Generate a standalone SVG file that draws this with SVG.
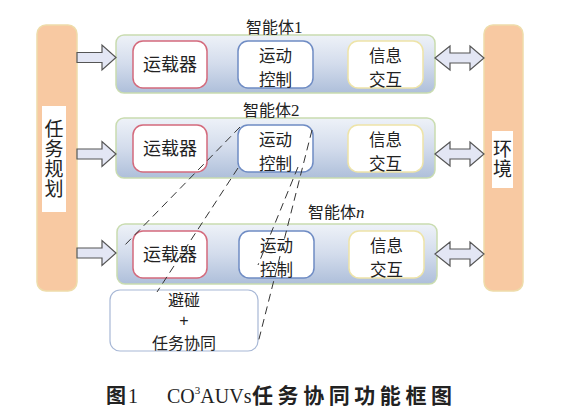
<svg xmlns="http://www.w3.org/2000/svg" xmlns:xlink="http://www.w3.org/1999/xlink" width="568" height="413" viewBox="0 0 568 413">
<defs>
<linearGradient id="cg" x1="0" y1="0" x2="0" y2="1">
<stop offset="0" stop-color="#eef2f8"/>
<stop offset="0.5" stop-color="#d3dcec"/>
<stop offset="1" stop-color="#aebfda"/>
</linearGradient>
<path id="ra" d="M77,-5 H102 V-12.5 L116,0 L102,12.5 V5 H77 Z"/>
<path id="da" d="M435,0 L450,-12 V-5 H470 V-12 L484,0 L470,12 V5 H450 V12 Z"/>
<style>
.bar{fill:#f8c9a2;stroke:#eedcaa;stroke-width:1.5}
.wb{fill:#ffffff}
.cont{fill:url(#cg);stroke:#c9dcb0;stroke-width:1.5}
.car{fill:#ffffff;stroke:#d46a7c;stroke-width:1.5}
.mot{fill:#ffffff;stroke:#6f8cc4;stroke-width:1.5}
.inf{fill:#ffffff;stroke:#eee4a8;stroke-width:1.5}
.bot{fill:#ffffff;stroke:#a8b8d6;stroke-width:1.2}
.arr{fill:#e3e6f4;stroke:#555555;stroke-width:1.2}
.dash{stroke:#333333;stroke-width:1;stroke-dasharray:8,5;fill:none}
text{font-family:"Noto Sans CJK SC","Liberation Serif",serif;fill:#222222}
.t18{font-size:18px;text-anchor:middle}
.t2{font-size:16.5px;text-anchor:middle}
.t16{font-size:16px;text-anchor:middle}
.plus{font-family:"Liberation Sans",sans-serif}
.vert{font-size:19px;writing-mode:vertical-rl;text-orientation:upright;letter-spacing:1px}
.lab{font-size:16px}
.ser{font-family:"Liberation Serif",serif}
.cap{font-size:20px}
.capb{font-size:20px;font-weight:bold}
</style>
</defs>
<rect width="568" height="413" fill="#ffffff"/>

<g id="plan">
<rect class="bar" x="37" y="25" width="40" height="266" rx="9"/>
<rect class="wb" x="42" y="106" width="24" height="106"/>
<text class="vert" x="54" y="119">任务规划</text>
</g>

<g id="env">
<rect class="bar" x="484" y="25" width="39" height="266" rx="9"/>
<rect class="wb" x="492" y="131" width="21" height="57"/>
<text class="vert" x="502.5" y="139">环境</text>
</g>

<g id="agent1">
<rect class="cont" x="116" y="35" width="319" height="58" rx="8"/>
<text class="lab" x="246" y="33">智能体<tspan class="ser" font-size="17">1</tspan></text>
<rect class="car" x="133" y="41" width="74" height="47" rx="10"/>
<text class="t18" x="170" y="71">运载器</text>
<rect class="mot" x="238" y="41" width="75" height="47" rx="10"/>
<text class="t2" x="275.5" y="61.5">运动<tspan x="275.5" dy="24">控制</tspan></text>
<rect class="inf" x="348" y="41" width="75" height="47" rx="10"/>
<text class="t2" x="385.5" y="61.5">信息<tspan x="385.5" dy="24">交互</tspan></text>
</g>

<g id="agent2">
<rect class="cont" x="116" y="118" width="319" height="60" rx="8"/>
<text class="lab" x="243" y="116">智能体<tspan class="ser" font-size="17">2</tspan></text>
<rect class="car" x="133" y="125" width="74" height="47" rx="10"/>
<text class="t18" x="170" y="155">运载器</text>
<rect class="mot" x="238" y="125" width="75" height="47" rx="10"/>
<text class="t2" x="275.5" y="145.5">运动<tspan x="275.5" dy="24">控制</tspan></text>
<rect class="inf" x="348" y="125" width="75" height="47" rx="10"/>
<text class="t2" x="385.5" y="145.5">信息<tspan x="385.5" dy="24">交互</tspan></text>
</g>

<g id="agentn">
<rect class="cont" x="117" y="224" width="320" height="60" rx="8"/>
<text class="lab" x="308" y="218">智能体<tspan class="ser" font-style="italic" font-size="17">n</tspan></text>
<rect class="car" x="133" y="231" width="74" height="47" rx="10"/>
<text class="t18" x="170" y="261">运载器</text>
<rect class="mot" x="239" y="231" width="75" height="47" rx="10"/>
<text class="t2" x="276.5" y="251.5">运动<tspan x="276.5" dy="24">控制</tspan></text>
<rect class="inf" x="349" y="231" width="75" height="47" rx="10"/>
<text class="t2" x="386.5" y="251.5">信息<tspan x="386.5" dy="24">交互</tspan></text>
</g>

<g id="coord">
<rect class="bot" x="110" y="290" width="148" height="61" rx="10"/>
<text class="t16" x="184" y="306">避碰<tspan class="plus" x="184" dy="20">+</tspan><tspan x="184" dy="22.5">任务协同</tspan></text>
</g>

<g id="connectors">
<use xlink:href="#ra" class="arr" y="57.5"/>
<use xlink:href="#ra" class="arr" y="154"/>
<use xlink:href="#ra" class="arr" y="253"/>
<use xlink:href="#da" class="arr" y="58"/>
<use xlink:href="#da" class="arr" y="154"/>
<use xlink:href="#da" class="arr" y="254"/>
<line class="dash" x1="240" y1="127" x2="123" y2="247"/>
<line class="dash" x1="238" y1="168" x2="157" y2="292"/>
<line class="dash" x1="312" y1="130" x2="258" y2="343"/>
<line class="dash" x1="298" y1="167" x2="258" y2="265"/>
</g>

<g id="caption">
<text class="capb" x="106" y="403">图</text>
<text class="cap ser" x="128" y="403">1</text>
<text class="cap ser" x="167" y="403">CO<tspan font-size="11" dy="-9">3</tspan><tspan dy="9">AUVs</tspan></text>
<text class="capb" x="252" y="403" style="font-size:21px" textLength="200" lengthAdjust="spacing">任务协同功能框图</text>
</g>
</svg>
